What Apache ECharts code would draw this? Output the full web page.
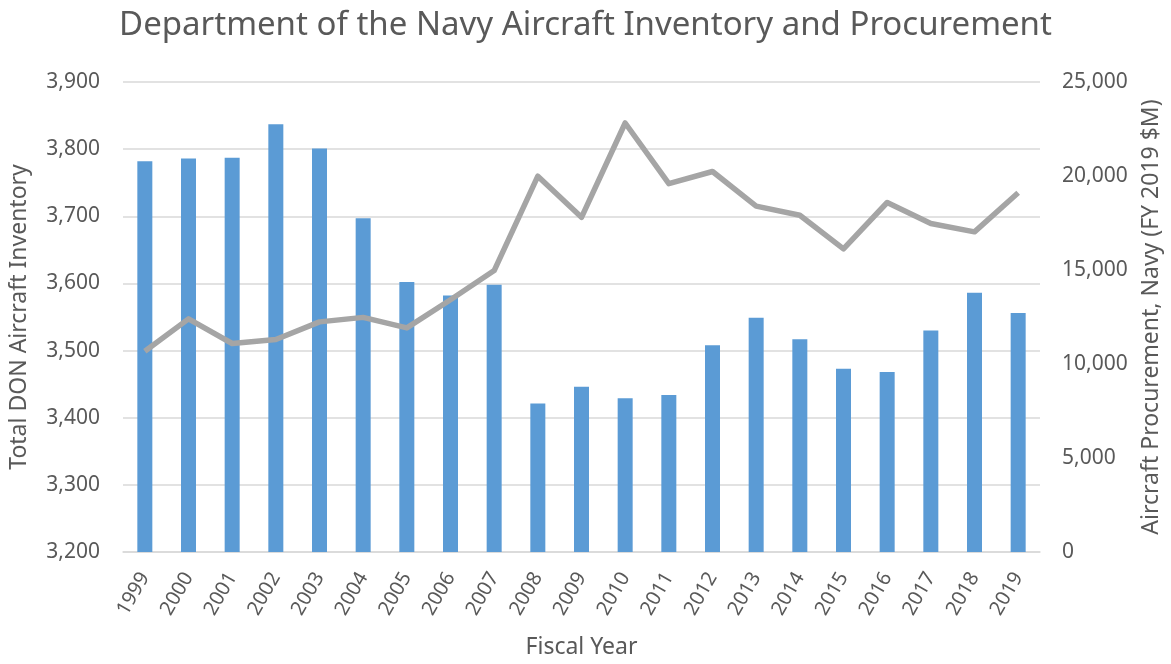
<!DOCTYPE html>
<html>
<head>
<meta charset="utf-8">
<script src="https://cdn.jsdelivr.net/npm/echarts@6/dist/echarts.min.js"></script>
<style>
  html, body { margin: 0; padding: 0; background: #fff; }
  #chart { width: 1171px; height: 664px; }
</style>
</head>
<body>
<div id="chart"></div>
<script>
let years = ['1999', '2000', '2001', '2002', '2003', '2004', '2005', '2006', '2007', '2008', '2009',
  '2010', '2011', '2012', '2013', '2014', '2015', '2016', '2017', '2018', '2019'];
let inventory = [3782, 3786, 3787, 3837, 3801, 3697, 3602, 3582, 3598, 3421, 3446,
  3429, 3434, 3508, 3549, 3517, 3473, 3468, 3530, 3586, 3556];
let procurement = [10680, 12400, 11090, 11300, 12240, 12480, 11920, 13420, 14970, 19990, 17800,
  22820, 19590, 20240, 18400, 17910, 16120, 18590, 17470, 17030, 19110];

let textColor = '#595959';
let fontFamily = '"Source Sans Pro", "Noto Sans", sans-serif';

function fmt(v) {
  return v.toLocaleString('en-US');
}

let chart = echarts.init(document.getElementById('chart'));
chart.setOption({
  animation: false,
  textStyle: { fontFamily: fontFamily },
  title: {
    text: 'Department of the Navy Aircraft Inventory and Procurement',
    left: 'center',
    top: 4,
    textStyle: { color: textColor, fontSize: 33, fontWeight: 'normal', fontFamily: fontFamily }
  },
  grid: { left: 123, right: 131, top: 82, bottom: 108 },
  xAxis: {
    type: 'category',
    data: years,
    name: 'Fiscal Year',
    nameLocation: 'center',
    nameGap: 84,
    nameTextStyle: { color: textColor, fontSize: 23 },
    axisLine: { lineStyle: { color: '#d9d9d9', width: 1.5 } },
    axisTick: { show: false },
    axisLabel: { color: textColor, fontSize: 20, rotate: 60, margin: 22, interval: 0 }
  },
  yAxis: [
    {
      type: 'value',
      min: 3200,
      max: 3900,
      interval: 100,
      name: 'Total DON Aircraft Inventory',
      nameLocation: 'center',
      nameGap: 92,
      nameTextStyle: { color: textColor, fontSize: 23 },
      axisLine: { show: false },
      axisTick: { show: false },
      axisLabel: { color: textColor, fontSize: 21, margin: 23, formatter: fmt },
      splitLine: { lineStyle: { color: '#d9d9d9', width: 1.5 } }
    },
    {
      type: 'value',
      min: 0,
      max: 25000,
      interval: 5000,
      name: 'Aircraft Procurement, Navy (FY 2019 $M)',
      nameLocation: 'center',
      nameGap: 100,
      nameRotate: 90,
      nameTextStyle: { color: textColor, fontSize: 23 },
      axisLine: { show: false },
      axisTick: { show: false },
      axisLabel: { color: textColor, fontSize: 21, margin: 22, formatter: fmt },
      splitLine: { show: false }
    }
  ],
  series: [
    {
      name: 'Inventory',
      type: 'bar',
      yAxisIndex: 0,
      data: inventory,
      barWidth: 15,
      itemStyle: { color: '#5b9bd5' }
    },
    {
      name: 'Procurement',
      type: 'line',
      yAxisIndex: 1,
      data: procurement,
      symbol: 'none',
      lineStyle: { color: '#a5a5a5', width: 5.5, join: 'round' },
      itemStyle: { color: '#a5a5a5' }
    }
  ]
});
</script>
</body>
</html>
